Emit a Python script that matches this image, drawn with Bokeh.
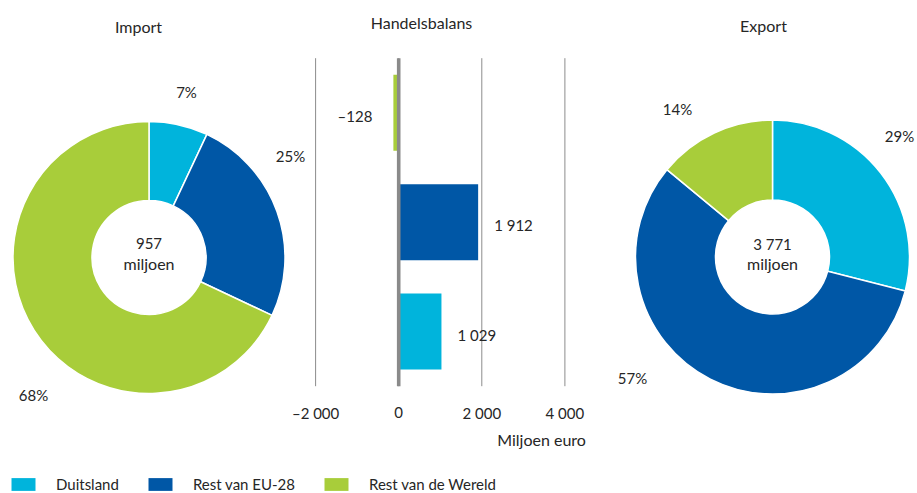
import math
from bokeh.plotting import figure
from bokeh.models import Range1d, ColumnDataSource, Legend, LegendItem
from bokeh.core.properties import value
from bokeh.embed import file_html
from bokeh.resources import INLINE

# ---------------- data ----------------
categories = ["Duitsland", "Rest van EU-28", "Rest van de Wereld"]
colors = ["#00B4DC", "#0057A6", "#A8CD3A"]
import_share = [7, 25, 68]          # percent
export_share = [29, 57, 14]         # percent
import_total = "957"
export_total = "3 771"
balance = [1029, 1912, -128]        # miljoen euro
balance_labels = ["1 029", "1 912", "–128"]
balance_ticks = [-2000, 0, 2000, 4000]
balance_tick_labels = ["–2 000", "0", "2 000", "4 000"]

# ---------------- layout (pixels, from top-left of the page) ----------------
W, H = 917, 493
FONT = "Lato"
FS_NUM = "15px"
FS_WORD = "16px"
TXT = "#262626"
GRID = "#8c8c8c"

def Y(top):  # convert top-based pixel to bottom-based
    return H - top

IMP_C = (148.5, 257)
EXP_C = (772, 256.5)
R_IN = 57
IMP_R = 136
EXP_R = 137

# percentage label anchor positions (layout)
imp_lab_pos = [(186, 91), (290, 155), (33, 394)]
exp_lab_pos = [(899, 135), (632, 377), (677, 108)]

# bar chart frame
ZERO_PX = 398.2
SCALE = 0.04155          # px per miljoen euro
CAT_TOP = 57.7
CAT_BOT = 385.7
BAND = (CAT_BOT - CAT_TOP) / 3

p = figure(width=W, height=H, x_range=Range1d(0, W), y_range=Range1d(0, H),
           output_backend="svg", toolbar_location=None, min_border=0,
           x_axis_location=None, y_axis_location=None)
p.grid.visible = False
p.outline_line_color = None
p.background_fill_color = "white"

# extra ranges for the balance bar chart
p.extra_x_ranges = {"bal": Range1d(-ZERO_PX / SCALE, (W - ZERO_PX) / SCALE)}
v_start = -0.5 - (H - CAT_BOT) / BAND
p.extra_y_ranges = {"cat": Range1d(v_start, v_start + H / BAND)}

# ---------------- donuts ----------------
def wedge_source(shares, cx, cy):
    tot = float(sum(shares))
    cum = 0.0
    starts, ends = [], []
    for s in shares:
        a0 = math.pi / 2 - 2 * math.pi * cum / tot
        cum += s
        a1 = math.pi / 2 - 2 * math.pi * cum / tot
        starts.append(a1)
        ends.append(a0)
    return ColumnDataSource(dict(x=[cx] * len(shares), y=[Y(cy)] * len(shares),
                                 start=starts, end=ends, color=colors))

for shares, c, r in [(import_share, IMP_C, IMP_R), (export_share, EXP_C, EXP_R)]:
    src = wedge_source(shares, *c)
    p.annular_wedge(x="x", y="y", inner_radius=R_IN, outer_radius=r,
                    inner_radius_units="screen", outer_radius_units="screen",
                    start_angle="start", end_angle="end", fill_color="color",
                    line_color="white", line_width=1.5, source=src)

def texts(xs, ys, labels, size, align="center", **kw):
    p.text(x=xs, y=ys, text=labels, text_font=value(FONT), text_font_size=size,
           text_color=TXT, text_align=align, text_baseline="middle", **kw)

# percentage labels
texts([q[0] for q in imp_lab_pos], [Y(q[1]) for q in imp_lab_pos],
      [f"{v}%" for v in import_share], FS_NUM)
texts([q[0] for q in exp_lab_pos], [Y(q[1]) for q in exp_lab_pos],
      [f"{v}%" for v in export_share], FS_NUM)

# centre texts
texts([IMP_C[0], EXP_C[0]], [Y(243), Y(243)], [import_total, export_total], FS_NUM)
texts([IMP_C[0], EXP_C[0]], [Y(263), Y(263)], ["miljoen", "miljoen"], FS_WORD)

# titles
texts([138, 763, 421], [Y(26), Y(25), Y(22)], ["Import", "Export", "Handelsbalans"], FS_WORD)

# ---------------- balance bar chart ----------------
bsrc = ColumnDataSource(dict(y=list(range(len(categories))), value=balance,
                             color=colors, label=balance_labels,
                             off=[16 if v >= 0 else -21 for v in balance],
                             align=["left" if v >= 0 else "right" for v in balance]))

p.segment(x0=balance_ticks, y0=[-0.5] * 4, x1=balance_ticks, y1=[2.5] * 4,
          x_range_name="bal", y_range_name="cat", line_color=GRID, line_width=1)

bars = p.hbar(y="y", left=0, right="value", height=0.695, fill_color="color",
              line_color=None, source=bsrc, x_range_name="bal", y_range_name="cat")

p.segment(x0=[0], y0=[-0.5], x1=[0], y1=[2.5], x_range_name="bal", y_range_name="cat",
          line_color="#8a8a8a", line_width=3.6)

p.text(x="value", y="y", text="label", x_offset="off", y_offset=3,
       text_align="align", text_baseline="middle", text_font=value(FONT),
       text_font_size=FS_NUM, text_color=TXT, source=bsrc,
       x_range_name="bal", y_range_name="cat")

# tick labels
p.text(x=balance_ticks, y=[Y(412)] * 4, text=balance_tick_labels,
       text_align="center", text_baseline="middle", text_font=value(FONT),
       text_font_size=FS_NUM, text_color=TXT, x_range_name="bal")
p.text(x=[balance_ticks[-1]], y=[Y(439)], text=["Miljoen euro"], x_offset=21,
       text_align="right", text_baseline="middle", text_font=value(FONT),
       text_font_size=FS_WORD, text_color=TXT, x_range_name="bal")

# ---------------- legend ----------------
items = [LegendItem(label=cat, renderers=[bars], index=i) for i, cat in enumerate(categories)]
legend = Legend(items=items, location=(8, 0), orientation="horizontal",
                glyph_width=30, glyph_height=16, label_standoff=18, spacing=26,
                padding=0, margin=0, border_line_color=None, background_fill_alpha=0,
                label_text_font=FONT, label_text_font_size="15px", label_text_color=TXT,
                label_height=16)
p.add_layout(legend)

open("out.html", "w").write(file_html(p, INLINE))
